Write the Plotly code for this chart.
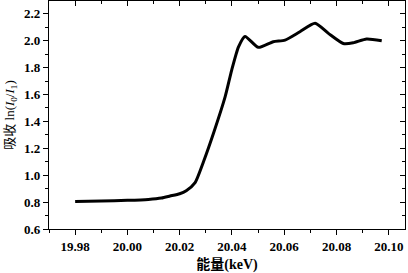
import plotly.graph_objects as go

energy = [19.980, 19.990, 20.000, 20.008, 20.013, 20.0163, 20.0200, 20.0225, 20.0259, 20.0291,
          20.0329, 20.0374, 20.0399, 20.0425, 20.0450, 20.0501, 20.0558,
          20.0603, 20.0660, 20.0718, 20.0769, 20.0826, 20.0864, 20.0915, 20.0973]
absorb = [0.805, 0.808, 0.813, 0.820, 0.830, 0.845, 0.862, 0.885, 0.945, 1.100,
          1.310, 1.584, 1.782, 1.955, 2.032, 1.951, 1.993,
          2.005, 2.067, 2.130, 2.055, 1.980, 1.985, 2.013, 2.000]

xticks = [19.98, 20.00, 20.02, 20.04, 20.06, 20.08, 20.10]
yticks = [0.6, 0.8, 1.0, 1.2, 1.4, 1.6, 1.8, 2.0, 2.2]
xrange_ = [19.970, 20.1062]
yrange_ = [0.6, 2.2957]

serif = "Liberation Serif"
tickfont = dict(family=serif, size=13, color="black", weight="bold")

fig = go.Figure()
fig.add_trace(go.Scatter(x=energy, y=absorb, mode="lines",
                         line=dict(color="black", width=3, shape="spline", smoothing=0.6),
                         showlegend=False, hoverinfo="skip"))
fig.add_trace(go.Scatter(x=energy, y=absorb, mode="lines", xaxis="x2", yaxis="y2",
                         line=dict(color="rgba(0,0,0,0)", width=0),
                         showlegend=False, hoverinfo="skip"))

fig.update_layout(
    width=408, height=273,
    margin=dict(l=49, r=3, t=1, b=44),
    plot_bgcolor="white", paper_bgcolor="white",
    xaxis=dict(range=xrange_, tickvals=xticks, ticktext=[f"{v:.2f}" for v in xticks],
               ticks="outside", ticklen=5, tickwidth=1, tickcolor="black",
               minor=dict(dtick=0.01, tick0=19.98, ticks="outside", ticklen=3, tickcolor="black"),
               showline=True, linecolor="black", linewidth=1.2, showgrid=False, zeroline=False,
               tickfont=tickfont,
               title=dict(text="能量(keV)", font=dict(family=serif + ", Noto Sans CJK SC", size=14, color="black", weight="bold"), standoff=6)),
    yaxis=dict(range=yrange_, tickvals=yticks, ticktext=[f"{v:.1f}" for v in yticks],
               ticks="outside", ticklen=5, tickwidth=1, tickcolor="black",
               minor=dict(dtick=0.1, tick0=0.6, ticks="outside", ticklen=3, tickcolor="black"),
               showline=True, linecolor="black", linewidth=1.2, showgrid=False, zeroline=False,
               tickfont=tickfont,
               title=dict(text="吸收 ln(<i>I</i><sub>0</sub>/<i>I</i><sub>1</sub>)",
                          font=dict(family=serif + ", Noto Sans CJK SC", size=13, color="black"), standoff=6)),
    xaxis2=dict(range=xrange_, overlaying="x", side="top", tickvals=xticks, showticklabels=False,
                ticks="inside", ticklen=5, tickcolor="black",
                minor=dict(dtick=0.01, tick0=19.98, ticks="inside", ticklen=3, tickcolor="black"),
                showline=True, linecolor="black", linewidth=1.2, showgrid=False, zeroline=False),
    yaxis2=dict(range=yrange_, overlaying="y", side="right", tickvals=yticks, showticklabels=False,
                ticks="inside", ticklen=5, tickcolor="black",
                minor=dict(dtick=0.1, tick0=0.6, ticks="inside", ticklen=3, tickcolor="black"),
                showline=True, linecolor="black", linewidth=1.2, showgrid=False, zeroline=False),
)

fig.write_html("out.html")
